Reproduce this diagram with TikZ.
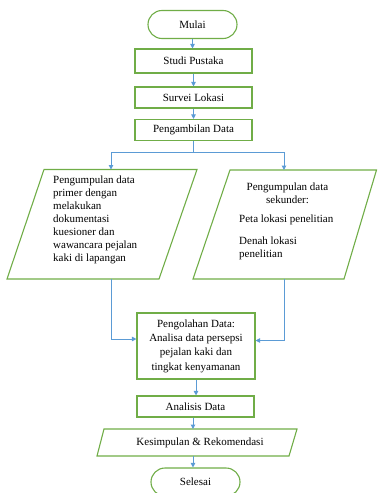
\documentclass[tikz,border=0pt]{standalone}
\usepackage{fontspec}
\setmainfont{Liberation Serif}
\usetikzlibrary{arrows.meta}
\definecolor{gbox}{HTML}{70AD47}
\definecolor{barrow}{HTML}{5B9BD5}
\begin{document}
\begin{tikzpicture}[x=1pt,y=-1pt,
  font=\fontsize{11}{13}\selectfont,
  box/.style={draw=gbox, line width=1.1pt, fill=white, minimum width=117pt, inner sep=0pt, align=center},
  term/.style={box, rounded corners=14pt, minimum width=89pt, minimum height=28pt},
  para/.style={draw=gbox, line width=1.1pt},
  conn/.style={draw=barrow, line width=1pt},
  arr/.style={conn, -{Triangle[length=4.5pt,width=4.5pt]}},
  txt/.style={inner sep=0pt}]
\useasboundingbox (0,0) rectangle (378,493);
\clip (0,0) rectangle (378,493);

\node[term] (mulai) at (192.5,24.5) {Mulai};
\node[box, minimum height=24pt] (studi) at (193.5,61) {Studi Pustaka};
\node[box, minimum height=21pt] (survei) at (193.5,97.5) {Survei Lokasi};
\node[box, minimum height=21pt] (ambil) at (193.5,130) {Pengambilan Data};

% left parallelogram
\draw[para] (44,169.5) -- (197,169.5) -- (159,279) -- (7,279) -- cycle;
\coordinate (lt) at (111,169.5);
\coordinate (lb) at (111,279);
\node[txt, anchor=west, align=left] (ltext) at (53,219.5) {Pengumpulan data\\primer dengan\\melakukan\\dokumentasi\\kuesioner dan\\wawancara pejalan\\kaki di lapangan};

% right parallelogram
\draw[para] (230,170) -- (376.5,170) -- (344,279) -- (193,279) -- cycle;
\coordinate (rt) at (284,170);
\coordinate (rb) at (284,279);
\node[txt, align=center] (rhead) at (287.5,193) {Pengumpulan data\\sekunder:};
\node[txt, anchor=west] (peta) at (239,220) {Peta lokasi penelitian};
\node[txt, anchor=west, align=left] (denah) at (239,248.5) {Denah lokasi\\penelitian};

\node[box, minimum width=118pt, minimum height=66pt, font=\fontsize{11}{14.3}\selectfont] (olah) at (196,346) {Pengolahan Data:\\Analisa data persepsi\\pejalan kaki dan\\tingkat kenyamanan};
\node[box, minimum height=21pt] (analisis) at (195.5,406.5) {Analisis Data};

% kesimpulan
\draw[para] (104,429) -- (297,429) -- (289,456) -- (97,456) -- cycle;
\coordinate (kt) at (193,429);
\coordinate (kb) at (193,456);
\node[txt] (kes) at (200,443) {Kesimpulan \& Rekomendasi};

\node[term] (selesai) at (195.5,482) {Selesai};

% connectors
\draw[arr] (mulai.south) -- (mulai.south |- studi.north);
\draw[arr] (studi.south) -- (survei.north);
\draw[arr] (survei.south) -- (ambil.north);
\coordinate (sp) at (193.5,152);
\draw[conn] (ambil.south) -- (sp);
\draw[arr] (sp) -| (lt);
\draw[arr] (sp) -| (rt);
\draw[arr] (lb) |- ([yshift=7pt]olah.west);
\draw[arr] (rb) |- ([yshift=5.5pt]olah.east);
\draw[arr] (olah.south) -- (olah.south |- analisis.north);
\draw[arr] (analisis.south -| kt) -- (kt);
\draw[arr] (kb) -- (kb |- selesai.north);
\end{tikzpicture}
\end{document}
